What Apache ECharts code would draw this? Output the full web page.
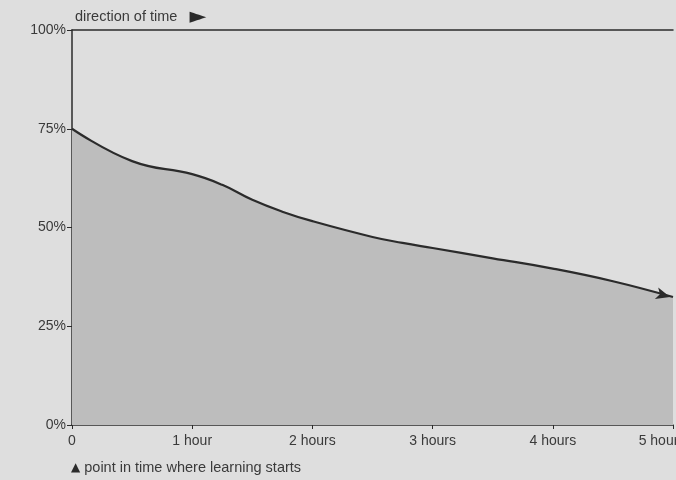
<!DOCTYPE html>
<html>
<head>
<meta charset="utf-8">
<script src="https://cdn.jsdelivr.net/npm/echarts@6/dist/echarts.min.js"></script>
<style>
html,body{margin:0;padding:0;background:#dedede;}
#chart{width:676px;height:480px;}
</style>
</head>
<body>
<div id="chart"></div>
<script>
const hours = [0, 0.5, 1, 1.25, 1.5, 1.75, 2, 2.5, 2.75, 3, 3.5, 4, 4.5, 5];
const retention = [75, 66.8, 63.5, 60.8, 57, 54, 51.6, 47.6, 46.1, 44.8, 42.2, 39.6, 36.4, 32.4];
const xTickLabels = ['0', '1 hour', '2 hours', '3 hours', '4 hours', '5 hours'];
const yTickLabels = ['0%', '25%', '50%', '75%', '100%'];
const topNote = 'direction of time';
const bottomNote = 'point in time where learning starts';

const chart = echarts.init(document.getElementById('chart'));
const ink = '#2b2b2b';
const txt = '#3a3a3a';
const font = 'Liberation Sans, Arial, sans-serif';

const seriesData = hours.map((h, i) => {
  const p = [h, retention[i]];
  if (i === hours.length - 1) {
    return {value: p, symbol: 'arrow', symbolSize: [9, 14], symbolRotate: -106,
      symbolOffset: [-3, 0], itemStyle: {color: ink}};
  }
  return {value: p, symbol: 'none'};
});

chart.setOption({
  backgroundColor: '#dedede',
  animation: false,
  grid: {left: 72, right: 3, top: 30, bottom: 55, outerBoundsMode: 'none', containLabel: false},
  title: [
    {text: topNote + '   {a|\u25BA}', left: 70, top: 1,
     textStyle: {fontFamily: font, fontSize: 14.5, fontWeight: 'normal', color: txt,
       rich: {a: {fontSize: 22, color: ink, fontFamily: 'DejaVu Sans'}}}},
    {text: '{a|\u25B2} ' + bottomNote, left: 66, top: 455,
     textStyle: {fontFamily: font, fontSize: 14.5, fontWeight: 'normal', color: txt,
       rich: {a: {fontSize: 12, color: ink, fontFamily: 'DejaVu Sans'}}}}
  ],
  xAxis: [{
    type: 'value', min: 0, max: 5, interval: 1,
    axisLine: {show: true, lineStyle: {color: ink, width: 1.5}},
    axisTick: {show: true, length: 4, lineStyle: {color: ink}},
    splitLine: {show: false},
    axisLabel: {fontFamily: font, fontSize: 14, color: txt, margin: 9,
      formatter: v => {
        const i = Math.round(v);
        return i === xTickLabels.length - 1 ? '{last|' + xTickLabels[i] + '}' : xTickLabels[i];
      },
      rich: {last: {fontFamily: font, fontSize: 14, color: txt, padding: [0, 22, 0, 0]}}}
  }, {
    type: 'value', min: 0, max: 5, position: 'top',
    axisLine: {show: true, lineStyle: {color: ink, width: 1.5}},
    axisTick: {show: false}, axisLabel: {show: false}, splitLine: {show: false}
  }],
  yAxis: {
    type: 'value', min: 0, max: 100, interval: 25,
    axisLine: {show: true, lineStyle: {color: ink, width: 1.5}},
    axisTick: {show: true, length: 5, lineStyle: {color: ink}},
    splitLine: {show: false},
    axisLabel: {fontFamily: font, fontSize: 14, color: txt, margin: 6,
      formatter: v => yTickLabels[Math.round(v / 25)]}
  },
  series: [{
    type: 'line', smooth: 0.45, data: seriesData,
    lineStyle: {color: ink, width: 2.2},
    areaStyle: {color: '#bdbdbd', opacity: 1},
    z: 3
  }]
});
</script>
</body>
</html>
